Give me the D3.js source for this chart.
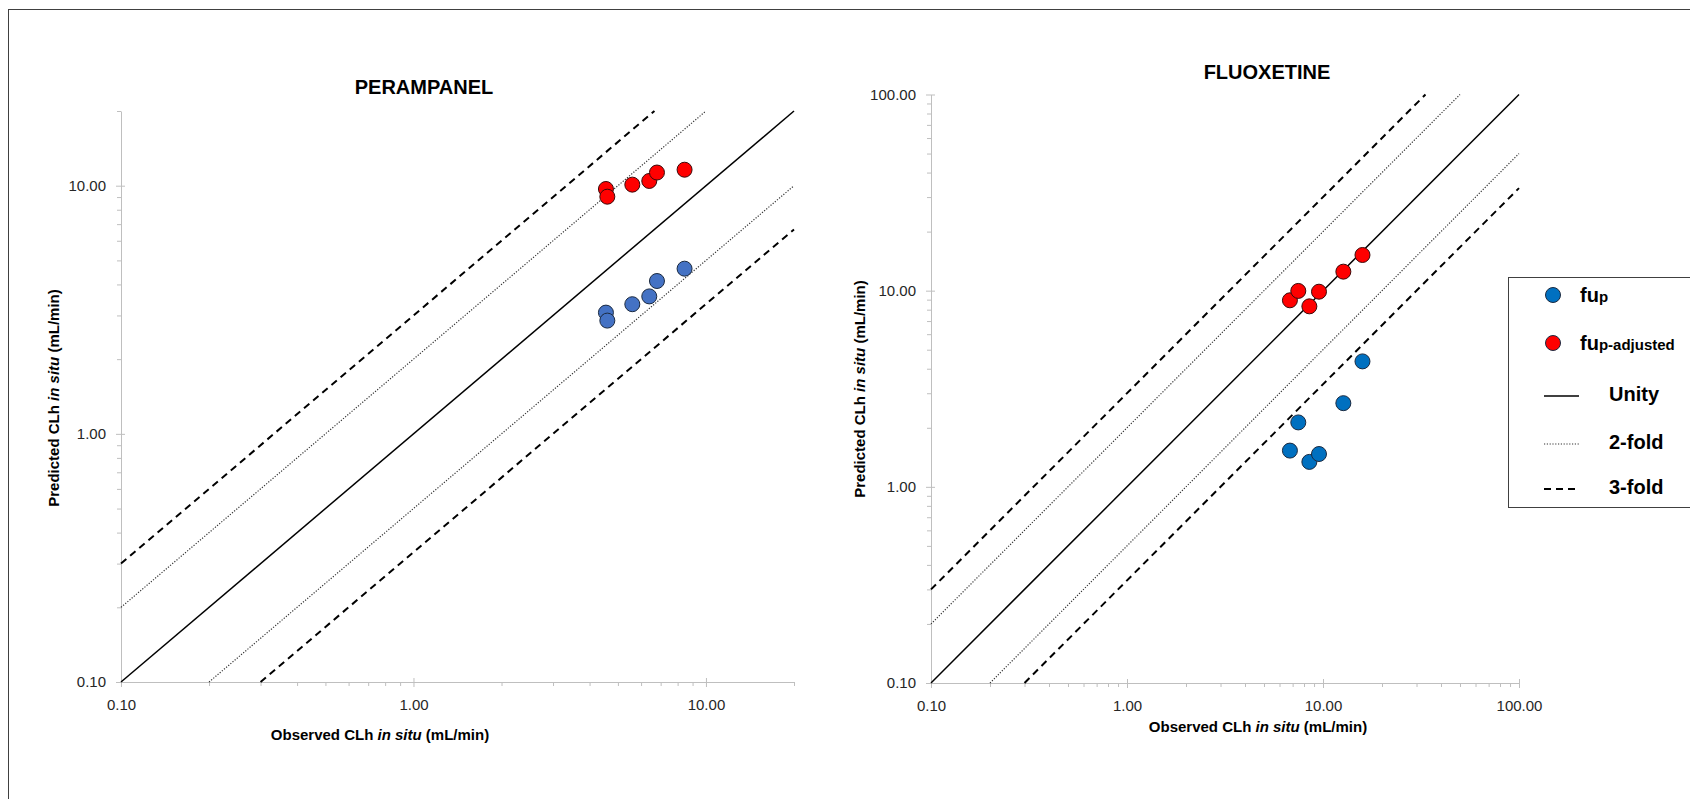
<!DOCTYPE html>
<html>
<head>
    <title>Predicted vs Observed CLh</title>
    <script src="https://d3js.org/d3.v7.min.js"></script>
    <style>
        body { margin: 0; background: #fff; }
        svg { display: block; font-family: "Liberation Sans", Arial, sans-serif; }
        .axis path, .axis line { stroke: #bfbfbf; stroke-width: 1px; }
        .axis text { font-size: 15px; fill: #262626; }
        .title { font-size: 20px; font-weight: bold; fill: #000; }
        .axis-title { font-size: 15px; font-weight: bold; fill: #000; }
        .legend text { font-weight: bold; fill: #000; }
    </style>
</head>
<body>
    <div id="chart"></div>

    <script>
        // Data (mL/min)
        const peraObserved = [4.55, 4.6, 5.6, 6.4, 6.8, 8.45];
        const peraFup      = [3.08, 2.86, 3.33, 3.58, 4.13, 4.63];
        const peraFupAdj   = [9.7, 9.03, 10.1, 10.45, 11.3, 11.6];

        const fluoObserved = [6.78, 7.48, 8.52, 9.54, 12.7, 15.9];
        const fluoFup      = [1.53, 2.13, 1.34, 1.47, 2.67, 4.36];
        const fluoFupAdj   = [8.93, 9.97, 8.32, 9.88, 12.5, 15.2];

        const folds = [1, 2, 0.5, 3, 1 / 3];
        const legendLines = ["Unity", "2-fold", "3-fold"];

        const width = 1690, height = 799;
        const svg = d3.select("#chart")
            .append("svg")
            .attr("width", width)
            .attr("height", height);

        // outer frame (runs off the right/bottom of the picture)
        svg.append("rect")
            .attr("x", 8.5).attr("y", 9.5)
            .attr("width", 2000).attr("height", 2000)
            .attr("fill", "none")
            .attr("stroke", "#404040");

        function foldStyle(sel, f) {
            if (f === 1) {
                sel.attr("stroke", "#000").attr("stroke-width", 1.5);
            } else if (f === 2 || f === 0.5) {
                sel.attr("stroke", "#333").attr("stroke-width", 1.2).attr("stroke-dasharray", "1.2,1.6");
            } else {
                sel.attr("stroke", "#000").attr("stroke-width", 2).attr("stroke-dasharray", "7,5");
            }
        }

        function minorTicks(domain) {
            const out = [];
            for (let e = -1; e <= 2; e++) {
                for (let k = 2; k <= 9; k++) {
                    const v = k * Math.pow(10, e);
                    if (v >= domain[0] - 1e-9 && v <= domain[1] + 1e-9) out.push(v);
                }
            }
            return out;
        }

        function drawPanel(p, observed, fup, fupAdj, blue) {
            const x = d3.scaleLog().domain(p.domain).range([p.x0, p.x1]);
            const y = d3.scaleLog().domain(p.domain).range([p.y0, p.y1]);
            const majors = [0.1, 1, 10, 100].filter(v => v <= p.domain[1]);
            const fmt = d3.format(".2f");

            // minor ticks
            svg.append("g").attr("class", "axis")
                .attr("transform", `translate(0,${p.y0})`)
                .call(d3.axisBottom(x).tickValues(minorTicks(p.domain)).tickSize(4).tickFormat(""))
                .call(g => g.select(".domain").remove());
            svg.append("g").attr("class", "axis")
                .attr("transform", `translate(${p.x0},0)`)
                .call(d3.axisLeft(y).tickValues(minorTicks(p.domain)).tickSize(4).tickFormat(""))
                .call(g => g.select(".domain").remove());

            // major ticks + labels (major ticks cross the axis line)
            svg.append("g").attr("class", "axis")
                .attr("transform", `translate(0,${p.y0})`)
                .call(d3.axisBottom(x).tickValues(majors).tickSize(5).tickSizeOuter(0).tickPadding(9).tickFormat(fmt))
                .call(g => g.selectAll(".tick line").attr("y1", -4))
                .call(g => g.selectAll("text").attr("dy", "0.9em"));
            svg.append("g").attr("class", "axis")
                .attr("transform", `translate(${p.x0},0)`)
                .call(d3.axisLeft(y).tickValues(majors).tickSize(5).tickSizeOuter(0).tickPadding(p.yPad).tickFormat(fmt))
                .call(g => g.selectAll(".tick line").attr("x1", 4));

            // unity / fold lines
            folds.forEach(f => {
                const xa = Math.max(p.domain[0], p.domain[0] / f);
                const xb = Math.min(p.domain[1], p.domain[1] / f);
                svg.append("line")
                    .attr("x1", x(xa)).attr("y1", y(xa * f))
                    .attr("x2", x(xb)).attr("y2", y(xb * f))
                    .call(foldStyle, f);
            });

            // points
            const pts = svg.append("g");
            pts.selectAll(".fup").data(observed)
                .join("circle")
                .attr("cx", d => x(d))
                .attr("cy", (d, i) => y(fup[i]))
                .attr("r", 7.5)
                .attr("fill", blue)
                .attr("stroke", "#1b2a40").attr("stroke-width", 1);
            pts.selectAll(".adj").data(observed)
                .join("circle")
                .attr("cx", d => x(d))
                .attr("cy", (d, i) => y(fupAdj[i]))
                .attr("r", 7.5)
                .attr("fill", "#ff0000")
                .attr("stroke", "#3a0a0a").attr("stroke-width", 1);

            // titles
            svg.append("text").attr("class", "title")
                .attr("x", p.titleX).attr("y", p.titleY)
                .attr("text-anchor", "middle")
                .text(p.title);

            const xt = svg.append("text").attr("class", "axis-title")
                .attr("x", p.xtX).attr("y", p.xtY)
                .attr("text-anchor", "middle");
            xt.append("tspan").text("Observed CLh ");
            xt.append("tspan").attr("font-style", "italic").text("in situ");
            xt.append("tspan").text(" (mL/min)");

            const yt = svg.append("text").attr("class", "axis-title")
                .attr("transform", `translate(${p.ytX},${p.ytY}) rotate(-90)`)
                .attr("text-anchor", "middle");
            yt.append("tspan").text("Predicted CLh ");
            yt.append("tspan").attr("font-style", "italic").text("in situ");
            yt.append("tspan").text(" (mL/min)");
        }

        drawPanel({
            title: "PERAMPANEL", titleX: 424, titleY: 94,
            domain: [0.1, 20], x0: 121, x1: 794, y0: 682, y1: 111, yPad: 10,
            xtX: 380, xtY: 740, ytX: 59, ytY: 398
        }, peraObserved, peraFup, peraFupAdj, "#4472c4");

        drawPanel({
            title: "FLUOXETINE", titleX: 1267, titleY: 79,
            domain: [0.1, 100], x0: 931, x1: 1519, y0: 683, y1: 94.5, yPad: 10,
            xtX: 1258, xtY: 732, ytX: 865, ytY: 389
        }, fluoObserved, fluoFup, fluoFupAdj, "#0070c0");

        // legend
        const lg = svg.append("g").attr("class", "legend");
        lg.append("rect")
            .attr("x", 1508.5).attr("y", 277.5)
            .attr("width", 400).attr("height", 230)
            .attr("fill", "#fff").attr("stroke", "#404040");

        const markers = [{ fill: "#0070c0", sub: "p", cy: 295 }, { fill: "#ff0000", sub: "p-adjusted", cy: 343 }];
        markers.forEach(m => {
            lg.append("circle").attr("cx", 1553).attr("cy", m.cy).attr("r", 7.5)
                .attr("fill", m.fill).attr("stroke", "#1b2a40");
            const t = lg.append("text").attr("x", 1580).attr("y", m.cy + 7);
            t.append("tspan").attr("font-size", 20).text("fu");
            t.append("tspan").attr("font-size", 15).text(m.sub);
        });

        const lineY = [396, 444, 489];
        legendLines.forEach((name, i) => {
            const f = [1, 2, 3][i];
            lg.append("line")
                .attr("x1", 1544).attr("x2", 1579)
                .attr("y1", lineY[i]).attr("y2", lineY[i])
                .call(foldStyle, f);
            lg.append("text").attr("x", 1609).attr("y", lineY[i] + 5)
                .attr("font-size", 20).text(name);
        });
    </script>
</body>
</html>
